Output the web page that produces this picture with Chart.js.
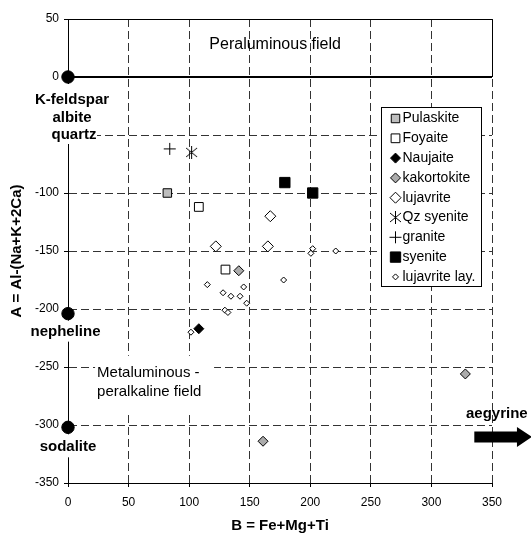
<!DOCTYPE html>
<html lang="en">
<head>
<meta charset="UTF-8">
<title>A-B diagram</title>
<script src="https://cdn.jsdelivr.net/npm/chart.js"></script>
<style>
  html, body { margin: 0; padding: 0; background: #fff; }
  #wrap { width: 531px; height: 533px; }
</style>
</head>
<body>
<div id="wrap"><canvas id="ab-chart"></canvas></div>
<script>
// B = Fe+Mg+Ti (x), A = Al-(Na+K+2Ca) (y)
const xTicks = [0, 50, 100, 150, 200, 250, 300, 350];
const yTicks = [50, 0, -50, -100, -150, -200, -250, -300, -350];

const pulaskiteB = [82];
const pulaskiteA = [-100];
const foyaiteB = [108, 130];
const foyaiteA = [-112, -166];
const naujaiteB = [108];
const naujaiteA = [-217];
const kakortokiteB = [141, 161, 328];
const kakortokiteA = [-167, -314, -256];
const lujavriteB = [122, 167, 165];
const lujavriteA = [-146, -120, -146];
const qzSyeniteB = [102];
const qzSyeniteA = [-65];
const graniteB = [84];
const graniteA = [-62];
const syeniteB = [179, 202];
const syeniteA = [-91, -100];
const lujLayB = [115, 128, 134.5, 142, 145, 147.5, 129.5, 132, 101.5, 178, 202, 200.5, 221];
const lujLayA = [-179, -186, -189, -189, -181, -195, -201, -203, -220, -175, -148, -152, -150];

// end-member minerals on the A axis
const endB = [0, 0, 0];
const endA = [0, -204, -302];

const FONT = "'Liberation Sans', Arial, sans-serif";
Chart.defaults.font.family = FONT;
Chart.defaults.color = '#000';

const pts = (bs, as) => bs.map((b, i) => ({ x: b, y: as[i] }));

// Qz syenite marker: asterisk with a vertical stroke
function asteriskMark(size) {
  const c = document.createElement('canvas');
  c.width = size; c.height = size;
  const g = c.getContext('2d');
  g.strokeStyle = '#000';
  g.lineWidth = 1;
  const m = size / 2;
  g.beginPath();
  g.moveTo(m, 0); g.lineTo(m, size);
  g.moveTo(1, 2); g.lineTo(size - 1, size - 2);
  g.moveTo(size - 1, 2); g.lineTo(1, size - 2);
  g.stroke();
  return c;
}

function series(label, data, style, radius, fill, extra) {
  return Object.assign({
    label, data,
    pointStyle: style,
    pointRadius: radius,
    backgroundColor: fill,
    borderColor: '#000',
    borderWidth: 1,
    showLine: false
  }, extra || {});
}

const datasets = [
  series('Pulaskite', pts(pulaskiteB, pulaskiteA), 'rect', 6, '#bdbdbd'),
  series('Foyaite', pts(foyaiteB, foyaiteA), 'rect', 6.2, '#fff'),
  series('Naujaite', pts(naujaiteB, naujaiteA), 'rectRot', 5, '#000'),
  series('kakortokite', pts(kakortokiteB, kakortokiteA), 'rectRot', 5, '#ababab'),
  series('lujavrite', pts(lujavriteB, lujavriteA), 'rectRot', 5.5, '#fff'),
  series('Qz syenite', pts(qzSyeniteB, qzSyeniteA), asteriskMark(13), 6, '#000'),
  series('granite', pts(graniteB, graniteA), 'cross', 6, '#000'),
  series('syenite', pts(syeniteB, syeniteA), 'rect', 7.3, '#000'),
  series('lujavrite lay.', pts(lujLayB, lujLayA), 'rectRot', 3, '#fff'),
  series('end members', pts(endB, endA), 'circle', 6.2, '#000', { clip: false, hideInLegend: true })
];

// field names, mineral labels and the aegyrine arrow
const fieldNotes = {
  id: 'fieldNotes',
  beforeDatasetsDraw(chart) {
    const { ctx, chartArea: a, scales: { x, y } } = chart;
    ctx.save();

    // solid frame round the peraluminous field and the A = 0 line
    ctx.strokeStyle = '#000';
    ctx.lineWidth = 1;
    const top = Math.round(y.getPixelForValue(50)) + 0.5;
    const right = Math.round(x.getPixelForValue(350)) + 0.5;
    const zero = Math.round(y.getPixelForValue(0));
    ctx.beginPath();
    ctx.moveTo(a.left, top);
    ctx.lineTo(right, top);
    ctx.lineTo(right, zero);
    ctx.stroke();
    ctx.lineWidth = 2;
    ctx.beginPath();
    ctx.moveTo(a.left, zero);
    ctx.lineTo(a.right, zero);
    ctx.stroke();

    ctx.textBaseline = 'middle';
    ctx.fillStyle = '#000';
    ctx.font = '16px ' + FONT;
    ctx.textAlign = 'center';
    ctx.fillText('Peraluminous field', x.getPixelForValue(171), y.getPixelForValue(28));

    // metaluminous field note on a white box
    const mx = x.getPixelForValue(24), my = y.getPixelForValue(-255);
    ctx.fillStyle = '#fff';
    ctx.fillRect(mx - 2, my - 17, 119, 56);
    ctx.fillStyle = '#000';
    ctx.font = '15px ' + FONT;
    ctx.textAlign = 'left';
    ctx.fillText('Metaluminous -', mx, my);
    ctx.fillText('peralkaline field', mx, my + 19.5);

    // mineral names under the end-member circles
    const x0 = x.getPixelForValue(0);
    const c1 = y.getPixelForValue(endA[0]);
    const c2 = y.getPixelForValue(endA[1]);
    const c3 = y.getPixelForValue(endA[2]);
    ctx.fillStyle = '#fff';
    ctx.fillRect(x0 - 40, c1 + 7, 69, 60);
    ctx.fillRect(x0 - 40, c2 + 7, 76, 21);
    ctx.fillRect(x0 - 34, c3 + 7, 68, 23);
    ctx.fillStyle = '#000';
    ctx.font = 'bold 15px ' + FONT;
    ctx.textAlign = 'center';
    ctx.fillText('K-feldspar', x0 + 4, c1 + 23);
    ctx.fillText('albite', x0 + 4, c1 + 41);
    ctx.fillText('quartz', x0 + 6, c1 + 58);
    ctx.fillText('nepheline', x0 - 2.5, c2 + 18.5);
    ctx.fillText('sodalite', x0, c3 + 19.5);

    // aegyrine direction
    ctx.fillText('aegyrine', x.getPixelForValue(354), y.getPixelForValue(-290.5));
    const ay = y.getPixelForValue(-310.3);
    const ax0 = x.getPixelForValue(335.4);
    const ax1 = x.getPixelForValue(370.6);
    const ax2 = x.getPixelForValue(383);
    ctx.beginPath();
    ctx.moveTo(ax0, ay - 5.5);
    ctx.lineTo(ax1, ay - 5.5);
    ctx.lineTo(ax1, ay - 10);
    ctx.lineTo(ax2, ay);
    ctx.lineTo(ax1, ay + 10);
    ctx.lineTo(ax1, ay + 5.5);
    ctx.lineTo(ax0, ay + 5.5);
    ctx.closePath();
    ctx.fill();
    ctx.restore();
  }
};

// boxed legend inside the plot, markers drawn with the dataset point styles
const boxLegend = {
  id: 'boxLegend',
  afterDatasetsDraw(chart) {
    const { ctx, chartArea: a } = chart;
    const left = Math.round(a.right - 111) + 0.5;
    const top = Math.round(a.top + 88) + 0.5;
    ctx.save();
    ctx.fillStyle = '#fff';
    ctx.strokeStyle = '#000';
    ctx.lineWidth = 1;
    ctx.fillRect(left, top, 100, 179);
    ctx.strokeRect(left, top, 100, 179);
    ctx.font = '14px ' + FONT;
    ctx.textBaseline = 'middle';
    ctx.textAlign = 'left';
    const drawPoint = Chart.helpers && Chart.helpers.drawPoint;
    chart.data.datasets.filter(d => !d.hideInLegend).forEach((d, i) => {
      const cy = top + 11 + i * 19.8;
      const cx = left + 14;
      if (drawPoint) {
        ctx.save();
        ctx.fillStyle = d.backgroundColor;
        ctx.strokeStyle = d.borderColor;
        ctx.lineWidth = d.borderWidth;
        drawPoint(ctx, { pointStyle: d.pointStyle, radius: d.pointRadius, borderWidth: d.borderWidth, rotation: 0 }, cx, cy);
        ctx.restore();
      }
      ctx.fillStyle = '#000';
      ctx.fillText(d.label, left + 21, cy);
    });
    ctx.restore();
  }
};

const hidden = 'rgba(0,0,0,0)';

new Chart(document.getElementById('ab-chart'), {
  type: 'scatter',
  data: { datasets },
  options: {
    responsive: true,
    maintainAspectRatio: false,
    animation: false,
    devicePixelRatio: 1,
    events: [],
    layout: { padding: { top: 19, right: 39, left: 0, bottom: 0 } },
    plugins: { legend: { display: false }, tooltip: { enabled: false } },
    scales: {
      x: {
        type: 'linear',
        min: 0, max: 350,
        afterBuildTicks: s => { s.ticks = xTicks.map(v => ({ value: v })); },
        afterFit: s => { s.height = 50; },
        ticks: { font: { size: 12 }, padding: 8, color: '#000' },
        grid: {
          color: c => (c.tick && c.tick.value === 0 ? hidden : '#333'),
          tickColor: '#000',
          tickLength: 4,
          lineWidth: 1
        },
        border: { color: '#000', width: 1, dash: [8, 4] },
        title: {
          display: true, text: 'B = Fe+Mg+Ti', color: '#000',
          font: { size: 15, weight: 'bold' }, padding: { top: 0, bottom: -2 }
        }
      },
      y: {
        type: 'linear',
        min: -350, max: 50,
        afterBuildTicks: s => { s.ticks = yTicks.map(v => ({ value: v })); },
        afterFit: s => { s.width = 68; },
        ticks: { font: { size: 12 }, padding: 5, color: '#000' },
        grid: {
          color: c => (c.tick && [50, 0, -350].includes(c.tick.value) ? hidden : '#333'),
          tickColor: '#000',
          tickLength: 4,
          lineWidth: 1
        },
        border: { color: '#000', width: 1, dash: [8, 4] },
        title: {
          display: true, text: 'A = Al-(Na+K+2Ca)', color: '#000',
          font: { size: 15, weight: 'bold' }, padding: { top: 8, bottom: 0 }
        }
      }
    }
  },
  plugins: [fieldNotes, boxLegend]
});
</script>
</body>
</html>
